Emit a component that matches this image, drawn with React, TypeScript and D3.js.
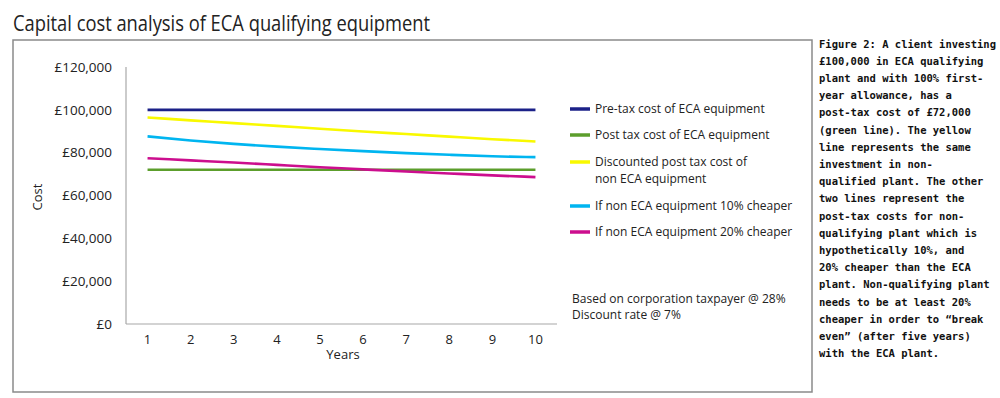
import * as d3 from "d3";

const years = [1, 2, 3, 4, 5, 6, 7, 8, 9, 10];
const preTaxEca = [100000, 100000, 100000, 100000, 100000, 100000, 100000, 100000, 100000, 100000];
const postTaxEca = [72000, 72000, 72000, 72000, 72000, 72000, 72000, 72000, 72000, 72000];
const discountedNonEca = [96400, 95100, 93800, 92500, 91200, 89900, 88700, 87500, 86300, 85200];
const cheaper10 = [87600, 85700, 84100, 82800, 81700, 80700, 79800, 79000, 78300, 77900];
const cheaper20 = [77400, 76400, 75400, 74300, 73200, 72200, 71200, 70300, 69400, 68600];
const yTicks = [0, 20000, 40000, 60000, 80000, 100000, 120000];

const series = [
  { name: ["Pre-tax cost of ECA equipment"], values: preTaxEca, color: "#1b2188" },
  { name: ["Post tax cost of ECA equipment"], values: postTaxEca, color: "#5c9e2c" },
  { name: ["Discounted post tax cost of", "non ECA equipment"], values: discountedNonEca, color: "#f9f900" },
  { name: ["If non ECA equipment 10% cheaper"], values: cheaper10, color: "#00b5f0" },
  { name: ["If non ECA equipment 20% cheaper"], values: cheaper20, color: "#cc0e8e" },
];

const notes = ["Based on corporation taxpayer @ 28%", "Discount rate @ 7%"];

const caption = [
  "Figure 2: A client investing",
  "£100,000 in ECA qualifying",
  "plant and with 100% first-",
  "year allowance, has a",
  "post-tax cost of £72,000",
  "(green line). The yellow",
  "line represents the same",
  "investment in non-",
  "qualified plant. The other",
  "two lines represent the",
  "post-tax costs for non-",
  "qualifying plant which is",
  "hypothetically 10%, and",
  "20% cheaper than the ECA",
  "plant. Non-qualifying plant",
  "needs to be at least 20%",
  "cheaper in order to “break",
  "even” (after five years)",
  "with the ECA plant.",
];

const W = 1000;
const H = 398;
const font = "'Open Sans', sans-serif";

export default function App() {
  const x = d3.scalePoint<number>().domain(years).range([126, 557]).padding(0.5);
  const y = d3.scaleLinear().domain([0, 120000]).range([324, 67]);

  const line = d3
    .line<number>()
    .x((_, i) => x(years[i])!)
    .y((d) => y(d))
    .curve(d3.curveMonotoneX);

  // legend rows (two-line entry takes extra space)
  const legendY = [109, 135, 162, 206, 232];

  return (
    <div style={{ position: "absolute", left: 0, top: 0 }}>
      <svg width={W} height={H} style={{ display: "block", background: "#fff" }}>
        <text
          x={13}
          y={31}
          fontFamily={font}
          fontSize={22}
          fill="#222"
          textLength={417}
          lengthAdjust="spacingAndGlyphs"
        >
          Capital cost analysis of ECA qualifying equipment
        </text>

        <rect x={13} y={40} width={799} height={352} fill="none" stroke="#8a8a8a" strokeWidth={1.5} />

        {/* axes */}
        <line x1={126} x2={126} y1={67} y2={324} stroke="#a8a8a8" strokeWidth={1.2} />
        <line x1={126} x2={557} y1={324} y2={324} stroke="#a8a8a8" strokeWidth={1.2} />

        {yTicks.map((t) => (
          <text
            key={t}
            x={112}
            y={y(t)}
            dy="0.35em"
            textAnchor="end"
            fontFamily={font}
            fontSize={13.5}
            fill="#222"
          >
            {"£" + d3.format(",")(t)}
          </text>
        ))}

        {years.map((yr) => (
          <text
            key={yr}
            x={x(yr)}
            y={339}
            dy="0.35em"
            textAnchor="middle"
            fontFamily={font}
            fontSize={13}
            fill="#222"
          >
            {yr}
          </text>
        ))}

        <text x={343} y={354} dy="0.35em" textAnchor="middle" fontFamily={font} fontSize={13} fill="#222">
          Years
        </text>
        <text
          transform="translate(42,197) rotate(-90)"
          textAnchor="middle"
          fontFamily={font}
          fontSize={13}
          fill="#222"
        >
          Cost
        </text>

        {series.map((s) => (
          <path
            key={s.color}
            d={line(s.values) ?? ""}
            fill="none"
            stroke={s.color}
            strokeWidth={2.6}
          />
        ))}

        {series.map((s, i) => (
          <g key={"lg" + i}>
            <line x1={570} x2={590} y1={legendY[i]} y2={legendY[i]} stroke={s.color} strokeWidth={3.5} />
            <text x={595} y={legendY[i]} dy="0.35em" fontFamily={font} fontSize={12} fill="#222">
              {s.name.map((n, j) => (
                <tspan key={j} x={595} dy={j === 0 ? "0.35em" : 16.5}>
                  {n}
                </tspan>
              ))}
            </text>
          </g>
        ))}

        {notes.map((n, i) => (
          <text key={n} x={572} y={298.5 + i * 16.5} dy="0.35em" fontFamily={font} fontSize={12} fill="#222">
            {n}
          </text>
        ))}

        <text x={819} y={44} fontFamily="'DejaVu Sans Mono', monospace" fontWeight="bold" fontSize={10.5} fill="#111">
          {caption.map((c, i) => (
            <tspan key={i} x={819} dy={i === 0 ? "0.35em" : 17.2}>
              {c}
            </tspan>
          ))}
        </text>
      </svg>
    </div>
  );
}
